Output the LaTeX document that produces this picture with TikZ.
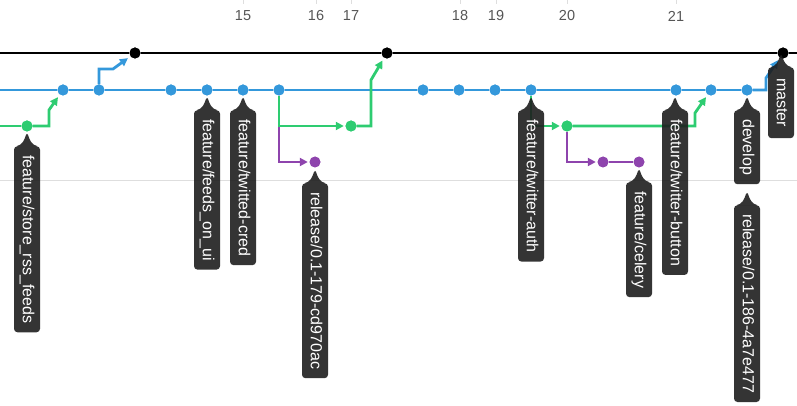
\documentclass[tikz,border=0pt]{standalone}
\usepackage{fontspec}
\setmainfont{Liberation Sans}
\usetikzlibrary{arrows.meta,calc}
\definecolor{cblue}{RGB}{52,152,219}
\definecolor{cgreen}{RGB}{46,204,113}
\definecolor{cpurple}{RGB}{142,68,173}
\definecolor{clabel}{RGB}{30,30,30}
\definecolor{cgrid}{RGB}{222,222,222}
\definecolor{cnum}{RGB}{85,85,85}
\tikzset{
  branch/.style={line width=2.8pt},
  bline/.style={branch,draw=cblue},
  gline/.style={branch,draw=cgreen},
  pline/.style={branch,draw=cpurple},
  kline/.style={branch,draw=black},
  tip/.style={-{Triangle[length=8pt,width=8pt]},shorten >=1.5pt},
  mergetip/.style={-{Triangle[length=8pt,width=8pt]},shorten >=3pt},
  commit/.style={circle,inner sep=0pt,minimum size=11pt},
  bdot/.style={commit,fill=cblue},
  gdot/.style={commit,fill=cgreen},
  pdot/.style={commit,fill=cpurple},
  kdot/.style={commit,fill=black},
  lbl/.style={rotate=-90,anchor=west,fill=clabel,fill opacity=0.9,text opacity=1,
    text=white,rounded corners=3.5pt,inner xsep=9pt,inner ysep=0pt,
    text height=11.5pt,text depth=3pt,minimum height=26pt,
    font=\fontsize{16}{16}\selectfont},
  ptr/.style={fill=clabel,fill opacity=0.9},
  num/.style={text=cnum,font=\fontsize{14.5}{14.5}\selectfont,inner sep=0pt},
  tick/.style={draw=cgrid,line width=0.8pt},
  gridline/.style={draw=cgrid,line width=1pt}
}
\begin{document}
\begin{tikzpicture}[x=1pt,y=-1pt]
\useasboundingbox (0,0) rectangle (797,406);
% grid line
\coordinate (gridL) at (0,181);
\coordinate (gridR) at (797,181);
\draw[gridline] (gridL) -- (gridR);
% ticks and numbers
\foreach \x/\n in {243/15,316/16,351/17,460/18,496/19,567/20,676/21}{
  \coordinate (t\n) at (\x,0);
  \draw[tick] (t\n) -- ++(0,4);
  \node[num] (n\n) at (\x,16) {\n};
}
% commits
\foreach \x in {63,99,171,207,243,279,423,459,495,531,676,711,747}{
  \node[bdot] (b\x) at (\x,90) {};
}
\foreach \x in {135,387,783}{
  \node[kdot] (m\x) at (\x,53) {};
}
\foreach \x in {27,351,567}{
  \node[gdot] (g\x) at (\x,126) {};
}
\foreach \x in {315,603,639}{
  \node[pdot] (p\x) at (\x,162) {};
}
\coordinate (mL) at (0,53);
\coordinate (mR) at (797,53);
\coordinate (bL) at (0,90);
\coordinate (gL) at (0,126);
% master line
\draw[kline] (mL) -- (m135) -- (m387) -- (m783) -- (mR);
% develop line
\draw[bline] (bL) -- (b63) -- (b99) -- (b171) -- (b207) -- (b243) -- (b279) -- (b423)
  -- (b459) -- (b495) -- (b531) -- (b676) -- (b711) -- (b747);
\draw[bline,mergetip] (b747) -| ($(m783)+(-17,25)$) -- (m783);
\draw[bline,mergetip] (b99) |- ($(m135)+(-22,16)$) -- (m135);
% feature/store_rss_feeds
\draw[gline] (gL) -- (g27);
\draw[gline,mergetip] (g27) -| ($(b63)+(-14,20)$) -- (b63);
% branches from 279
\draw[pline,tip] (b279) |- (p315);
\draw[gline,tip] (b279) |- (g351);
\draw[gline,mergetip] (g351) -| ($(m387)+(-16,27)$) -- (m387);
% branches from 531
\draw[gline,tip] (b531) |- (g567);
\draw[pline,tip] (g567) |- (p603);
\draw[pline] (p603) -- (p639);
\draw[gline,mergetip] (g567) -| ($(b711)+(-16,23)$) -- (b711);
% redraw dots on top
\foreach \x in {63,99,171,207,243,279,423,459,495,531,676,711,747}{
  \fill[cblue] (b\x) circle (5.5pt);
}
\foreach \x in {135,387,783}{\fill[black] (m\x) circle (5.5pt);}
\foreach \x in {27,351,567}{\fill[cgreen] (g\x) circle (5.5pt);}
\foreach \x in {315,603,639}{\fill[cpurple] (p\x) circle (5.25pt);}
% labels
\node[lbl] (l1) at (27,146) {feature/store\_rss\_feeds};
\node[lbl] (l2) at (207,110) {feature/feeds\_on\_ui};
\node[lbl] (l3) at (243,110) {feature/twitted-cred};
\node[lbl] (l4) at (315,183) {release/0.1-179-cd970ac};
\node[lbl] (l5) at (531,110) {feature/twitter-auth};
\node[lbl] (l6) at (639,182) {feature/celery};
\node[lbl] (l7) at (675,110) {feature/twitter-button};
\node[lbl] (l8) at (747,110) {develop};
\node[lbl] (l9) at (747,205) {release/0.1-186-4a7e477};
\node[lbl,minimum width=71pt] (l10) at (781,67) {master};
\foreach \l in {l1,l2,l3,l4,l5,l6,l7,l8,l9,l10}{
  \begin{scope}[shift={(\l.west)}]
    \fill[ptr] (-10,0) .. controls (-5,-1) and (-3,-5) .. (-1,-11) -- (0,-12)
      -- (1,-11) .. controls (3,-5) and (5,-1) .. (10,0) -- cycle;
  \end{scope}
}
\end{tikzpicture}
\end{document}
